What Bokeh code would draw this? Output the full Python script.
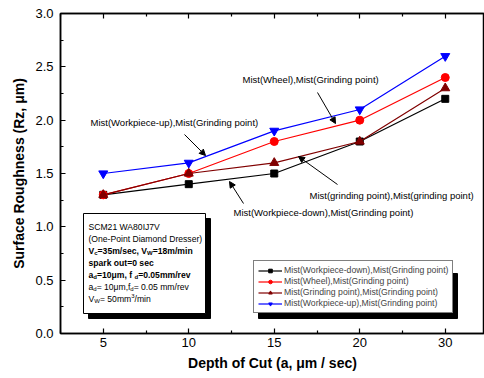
from bokeh.plotting import figure
from bokeh.models import (FixedTicker, Label, Arrow, NormalHead, Legend, LegendItem,
                          NumeralTickFormatter, Range1d, LinearAxis)
from bokeh.embed import file_html
from bokeh.resources import INLINE

# ---------------- data ----------------
depth_labels = ["5", "10", "15", "20", "30"]
workpiece_down = [1.3, 1.4, 1.5, 1.8, 2.2]
wheel = [1.3, 1.5, 1.8, 2.0, 2.4]
grinding_point = [1.3, 1.5, 1.6, 1.8, 2.3]
workpiece_up = [1.5, 1.6, 1.9, 2.1, 2.6]
series_names = ["Mist(Workpiece-down),Mist(Grinding point)",
                "Mist(Wheel),Mist(Grinding point)",
                "Mist(Grinding point),Mist(Grinding point)",
                "Mist(Workpiece-up),Mist(Grinding point)"]
y_ticks = [0.0, 0.5, 1.0, 1.5, 2.0, 2.5, 3.0]

FONT = "Liberation Sans"
W, H = 484, 378
FL, FR, FT, FB = 60, 484, 13, 333
XMIN, XMAX = 0.5, 0.5 + (FR - FL) / 85.5
YMIN, YMAX = 0.0, 3.0


def dx(px):
    return XMIN + (px - FL) / (FR - FL) * (XMAX - XMIN)


def dy(py):
    return YMIN + (FB - py) / (FB - FT) * (YMAX - YMIN)


xs = [i + 1 for i in range(len(depth_labels))]

p = figure(width=W, height=H, output_backend="svg", toolbar_location=None,
           x_range=Range1d(XMIN, XMAX), y_range=Range1d(YMIN, YMAX),
           min_border_left=FL, min_border_right=W - FR, min_border_top=FT,
           min_border_bottom=H - FB)
p.background_fill_color = "white"
p.border_fill_color = "white"
p.outline_line_color = "black"
p.outline_line_width = 1.5
p.xgrid.visible = False
p.ygrid.visible = False

xt = FixedTicker(ticks=xs, minor_ticks=[x + 0.5 for x in xs] + [xs[0] - 0.5])
yt = FixedTicker(ticks=y_ticks,
                 minor_ticks=[(a + b) / 2 for a, b in zip(y_ticks, y_ticks[1:])])

for ax in (p.xaxis[0], p.yaxis[0]):
    ax.major_tick_in = 5
    ax.major_tick_out = 0
    ax.minor_tick_in = 3
    ax.minor_tick_out = 0
    ax.axis_line_width = 1.5
    ax.major_tick_line_width = 1.2
    ax.minor_tick_line_width = 1.2
    ax.major_label_text_font = FONT
    ax.major_label_text_font_size = "13px"
    ax.major_label_text_color = "black"
    ax.axis_label_text_font = FONT
    ax.axis_label_text_font_size = "14px"
    ax.axis_label_text_font_style = "bold"
    ax.axis_label_text_color = "black"

p.xaxis.ticker = xt
p.xaxis.major_label_overrides = {x: lab for x, lab in zip(xs, depth_labels)}
p.xaxis.axis_label = "Depth of Cut (a, \u03bcm / sec)"
p.xaxis.major_label_standoff = 4
p.xaxis.axis_label_standoff = 5

p.yaxis.ticker = yt
p.yaxis.formatter = NumeralTickFormatter(format="0.0")
p.yaxis.axis_label = "Surface Roughness (Rz, \u03bcm)"
p.yaxis.major_label_standoff = 7
p.yaxis.axis_label_standoff = 5

top = LinearAxis(ticker=xt, major_label_text_font_size="0px", major_tick_in=5,
                 major_tick_out=0, minor_tick_in=3, minor_tick_out=0,
                 major_label_standoff=0, axis_line_width=1.5,
                 major_tick_line_width=1.2, minor_tick_line_width=1.2)
top.major_label_overrides = {x: "" for x in xs}
p.add_layout(top, "above")

# ---------------- info box (with shadow) ----------------
p.quad(left=dx(88), right=dx(210), top=dy(218), bottom=dy(318),
       fill_color="black", line_color="black")
p.quad(left=dx(83), right=dx(205), top=dy(213), bottom=dy(313),
       fill_color="white", line_color="black", line_width=1)

# ---------------- legend shadow ----------------
p.quad(left=dx(258), right=dx(457), top=dy(273), bottom=dy(318),
       fill_color="black", line_color="black")

# ---------------- series ----------------
colors = ["black", "#ff0000", "#800000", "#0000ff"]
markers = ["square", "circle", "triangle", "inverted_triangle"]
sizes = [7, 8, 9, 9]
series = [workpiece_down, wheel, grinding_point, workpiece_up]
items = []
for name, ys, c, m, s in zip(series_names, series, colors, markers, sizes):
    ln = p.line(xs, ys, line_color=c, line_width=1.2)
    sc = p.scatter(xs, ys, marker=m, size=s, fill_color=c, line_color=c)
    items.append(LegendItem(label=name, renderers=[ln, sc]))

legend = Legend(items=items, location=(253 - FL, FB - 313),
                label_text_font=FONT, label_text_font_size="8.7px",
                label_height=9, glyph_height=9, glyph_width=24, spacing=1,
                padding=4, margin=0, label_standoff=2,
                border_line_color="black", border_line_width=1,
                background_fill_color="white", background_fill_alpha=1)
p.add_layout(legend)

# ---------------- annotations with arrows ----------------
ann_texts = ["Mist(Wheel),Mist(Grinding point)",
             "Mist(Workpiece-up),Mist(Grinding point)",
             "Mist(grinding point),Mist(grinding point)",
             "Mist(Workpiece-down),Mist(Grinding point)"]
ann_pos = [(242, 79), (90, 122), (309, 195), (233, 212)]
arrow_pts = [((317, 92), (335, 123)),
             ((184, 134), (205, 155)),
             ((337, 184), (298, 156)),
             ((243, 203), (229, 181))]
for t, (ax_, ay_) in zip(ann_texts, ann_pos):
    p.add_layout(Label(x=dx(ax_), y=dy(ay_), text=t, text_font=FONT,
                       text_font_size="9.5px", text_baseline="middle",
                       text_align="left", text_color="black"))
for (s0, s1) in arrow_pts:
    p.add_layout(Arrow(x_start=dx(s0[0]), y_start=dy(s0[1]),
                       x_end=dx(s1[0]), y_end=dy(s1[1]), line_width=1,
                       end=NormalHead(size=6, fill_color="black",
                                      line_color="black")))

# ---------------- info box text ----------------
REG = {' ': 278, '(': 333, ')': 333, ',': 278, '-': 333, '.': 278, '/': 278,
       '=': 584, 'A': 667, 'C': 722, 'D': 722, 'I': 278, 'J': 500, 'M': 833,
       'O': 778, 'P': 667, 'S': 667, 'V': 667, 'W': 944, 'a': 556, 'c': 500,
       'd': 556, 'e': 556, 'f': 278, 'g': 556, 'h': 556, 'i': 222, 'k': 500,
       'l': 222, 'm': 833, 'n': 556, 'o': 556, 'p': 556, 'r': 333, 's': 500,
       't': 278, 'u': 556, 'v': 500, 'w': 722, '\u03bc': 556}
BOLD = {' ': 278, '(': 333, ')': 333, ',': 278, '.': 278, '/': 278, '=': 584,
        'V': 667, 'W': 944, 'a': 556, 'c': 556, 'd': 611, 'e': 556, 'f': 333,
        'k': 556, 'm': 889, 'n': 611, 'o': 611, 'p': 611, 'r': 389, 's': 556,
        't': 333, 'u': 611, 'v': 556, '\u03bc': 611}


def tw(text, size, bold):
    tab = BOLD if bold else REG
    return sum(tab.get(ch, 556) for ch in text) * size / 1000.0


box_lines = [
    [("SCM21 WA80IJ7V", "n")],
    [("(One-Point Diamond Dresser)", "n")],
    [("V", "n"), ("c", "sub"), ("=35m/sec, V", "n"), ("W", "sub"), ("=18m/min", "n")],
    [("spark out=0 sec", "n")],
    [("a", "n"), ("d", "sub"), ("=10\u03bcm,  f", "n"), ("d", "sub"), ("=0.05mm/rev", "n")],
    [("a", "n"), ("d", "sub"), ("= 10\u03bcm,f", "n"), ("d", "sub"), ("= 0.05 mm/rev", "n")],
    [("V", "n"), ("W", "sub"), ("= 50mm", "n"), ("3", "sup"), ("/min", "n")],
]
box_bold = [False, False, True, True, True, False, False]
line_y = [226, 238, 250, 262, 274, 286, 298]
FS = 8.6
for segs, bold, ly in zip(box_lines, box_bold, line_y):
    cx = 88.0
    for txt, kind in segs:
        size = FS if kind == "n" else FS * 0.7
        off = 0 if kind == "n" else (2.5 if kind == "sub" else -3.0)
        p.add_layout(Label(x=dx(cx), y=dy(ly + off), text=txt, text_font=FONT,
                           text_font_size=f"{size:.2f}px",
                           text_font_style="bold" if bold else "normal",
                           text_baseline="middle", text_align="left",
                           text_color="black"))
        cx += tw(txt, size, bold)

open("out.html", "w").write(file_html(p, INLINE))
